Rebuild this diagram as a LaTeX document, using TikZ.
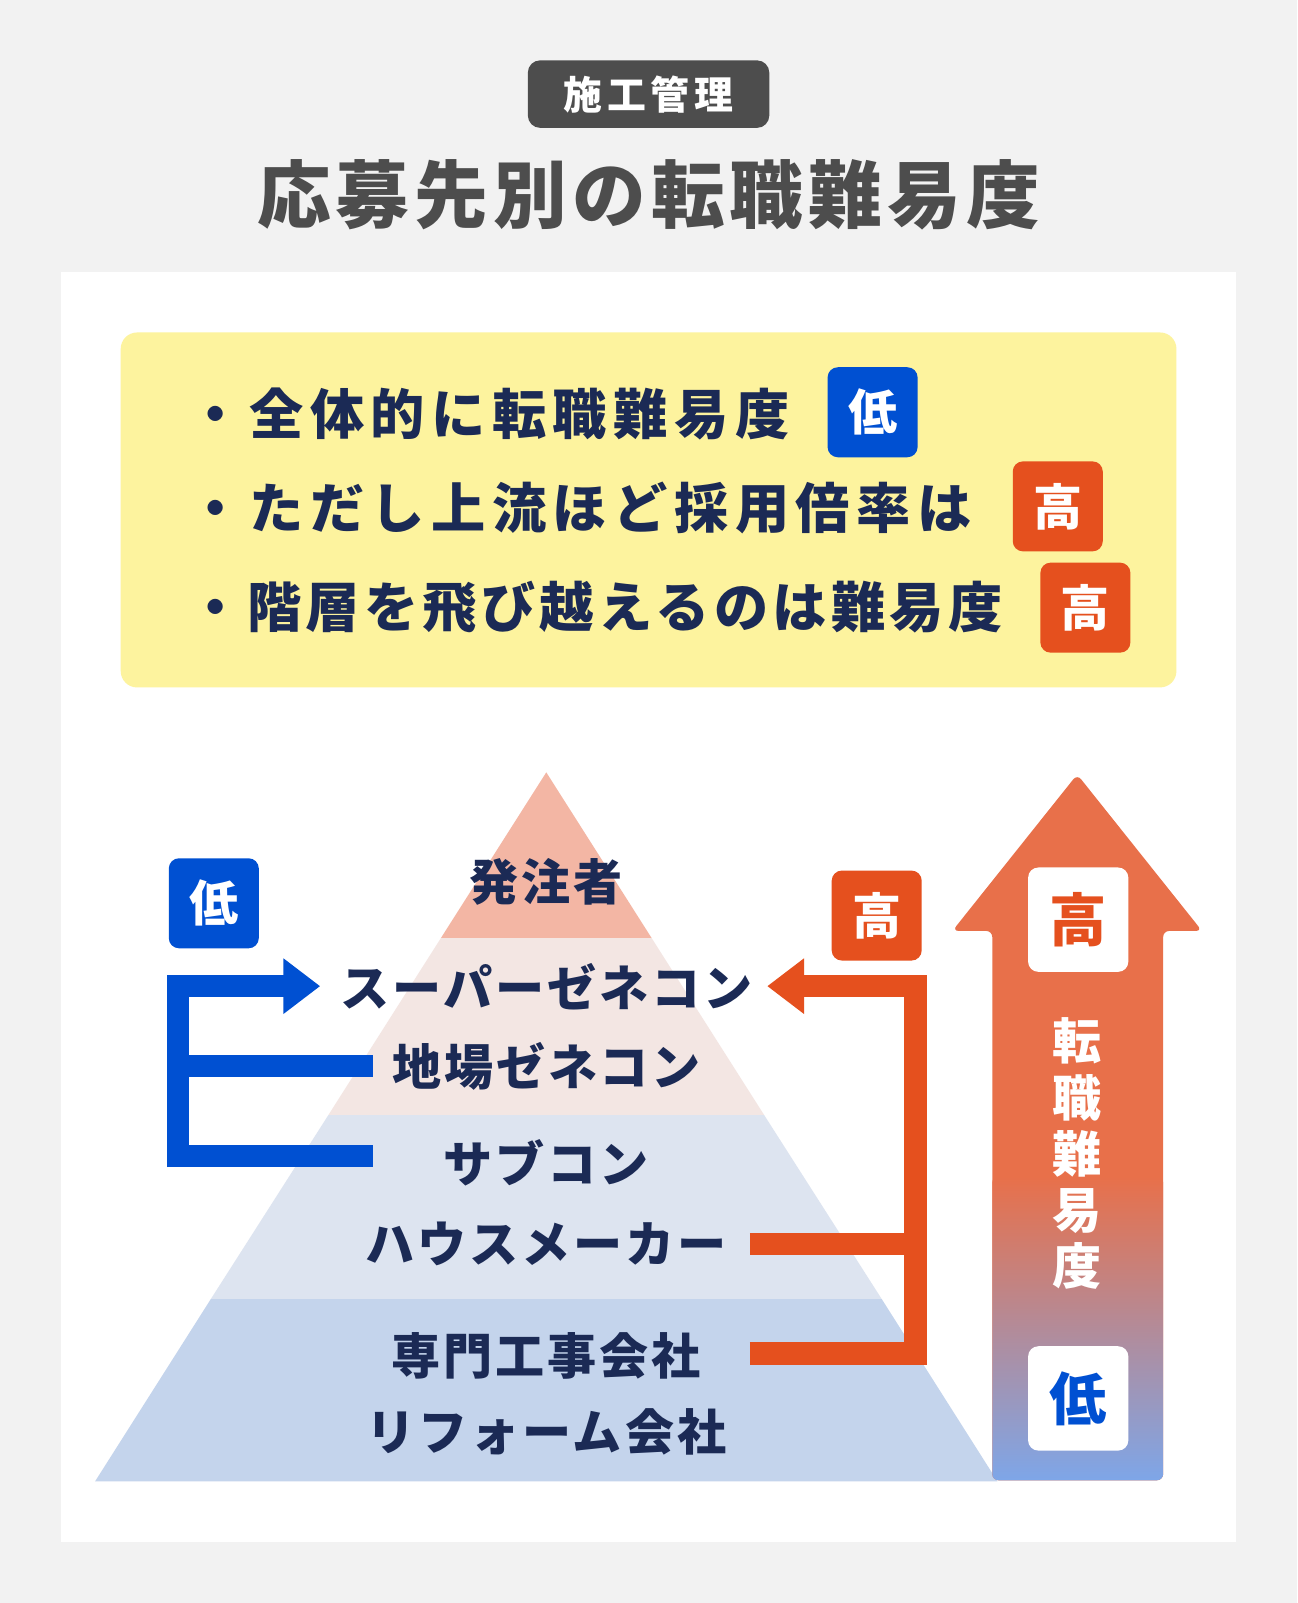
\documentclass[tikz,border=0pt]{standalone}
\usepackage{fontspec}
\setmainfont{Noto Sans CJK JP}
\usetikzlibrary{arrows.meta}
\definecolor{bg}{HTML}{F2F2F2}
\definecolor{dgray}{HTML}{4D4D4D}
\definecolor{navy}{HTML}{1B2A55}
\definecolor{ylw}{HTML}{FDF39E}
\definecolor{bblue}{HTML}{0050D2}
\definecolor{org}{HTML}{E5501E}
\definecolor{l1}{HTML}{F3B6A4}
\definecolor{l2}{HTML}{F3E6E3}
\definecolor{l3}{HTML}{DDE4F0}
\definecolor{l4}{HTML}{C4D4EC}
\definecolor{arrO}{HTML}{E8704A}
\definecolor{arrB}{HTML}{7EA6E8}
\begin{document}
\begin{tikzpicture}[x=0.5pt,y=-0.5pt,
  txt/.style={font=\fontsize{24}{24}\selectfont\bfseries\addfontfeatures{LetterSpace=6},text=navy,inner sep=0},
  bul/.style={font=\fontsize{26.5}{26.5}\selectfont\bfseries\addfontfeatures{LetterSpace=12},text=navy,anchor=west,inner sep=0},
  badge/.style={rounded corners=5pt,minimum width=44pt,minimum height=44pt,inner sep=0,font=\fontsize{24}{24}\selectfont\bfseries},
  br/.style={line width=11pt}]
\fill[bg] (0,0) rectangle (1268,1567);
\useasboundingbox (0,0) rectangle (1268,1567);
\node[fill=dgray,rounded corners=6pt,minimum width=118pt,minimum height=33pt,text=white,font=\fontsize{19}{19}\selectfont\bfseries\addfontfeatures{LetterSpace=12}] (tag) at (634,92) {施工管理};
\node[text=dgray,font=\fontsize{36}{36}\selectfont\bfseries\addfontfeatures{LetterSpace=7}] (title) at (634,190) {応募先別の転職難易度};
\fill[white] (60,266) rectangle (1208,1507);
\fill[ylw,rounded corners=8pt] (118,325) rectangle (1150,672);
\node[bul] (b1) at (184,405) {・全体的に転職難易度};
\node[bul] (b2) at (184,497) {・ただし上流ほど採用倍率は};
\node[bul,font=\fontsize{26.5}{26.5}\selectfont\bfseries\addfontfeatures{LetterSpace=8}] (b3) at (184,594) {・階層を飛び越えるのは難易度};
\node[badge,fill=bblue,text=white] (k1) at (853,403) {低};
\node[badge,fill=org,text=white] (k2) at (1034,495) {高};
\node[badge,fill=org,text=white] (k3) at (1061,594) {高};
% pyramid
\fill[l1] (534,755) -- (637.0,917) -- (431.0,917) -- cycle;
\fill[l2] (431.0,917) -- (637.0,917) -- (747,1090) -- (321,1090) -- cycle;
\fill[l3] (321,1090) -- (747,1090) -- (862,1270) -- (206,1270) -- cycle;
\fill[l4] (206,1270) -- (862,1270) -- (975,1448) -- (93,1448) -- cycle;
\node[txt] (p1) at (534,862) {発注者};
\node[txt] (p2) at (534,965) {スーパーゼネコン};
\node[txt] (p3) at (534,1042) {地場ゼネコン};
\node[txt] (p4) at (534,1137) {サブコン};
\node[txt] (p5) at (534,1216) {ハウスメーカー};
\node[txt] (p6) at (534,1325) {専門工事会社};
\node[txt] (p7) at (534,1400) {リフォーム会社};
% blue bracket
\node[badge,fill=bblue,text=white] (kb) at (209,883) {低};
\draw[br,bblue,-{Triangle[length=18pt,width=26pt]}] (174,1141) -- (174,964) -- (313,964);
\draw[br,bblue] (168,1042) -- (365,1042);
\draw[br,bblue] (168,1130) -- (365,1130);
% orange bracket
\node[badge,fill=org,text=white] (ko) at (857,895) {高};
\draw[br,org,-{Triangle[length=18pt,width=26pt]}] (733,1323) -- (895,1323) -- (895,964) -- (750,964);
\draw[br,org] (733,1216) -- (900,1216);
% big arrow
\fill[arrO,rounded corners=3pt] (970,1447) -- (970,910) -- (931,910) -- (1053,757) -- (1175,910) -- (1137,910) -- (1137,1447) -- cycle;
\shade[top color=arrO,bottom color=arrB,rounded corners=3pt] (970,1150) rectangle (1137,1447);
\node[badge,fill=white,text=org,minimum width=49pt,minimum height=51pt,font=\fontsize{28}{28}\selectfont\bfseries] (ah) at (1054,899) {高};
\node[badge,fill=white,text=bblue,minimum width=49pt,minimum height=51pt,font=\fontsize{28}{28}\selectfont\bfseries] (al) at (1054,1367) {低};
\node[text=white,font=\fontsize{24}{27.5}\selectfont\bfseries,align=center,inner sep=0] (vt) at (1053,1128) {転\\職\\難\\易\\度};
\end{tikzpicture}
\end{document}
